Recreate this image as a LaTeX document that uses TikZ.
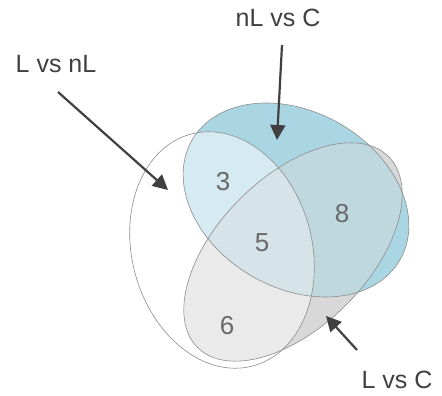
\documentclass[tikz,border=0pt]{standalone}
\usepackage{fontspec}
\setmainfont{Liberation Sans}
\usetikzlibrary{arrows.meta}
\definecolor{onlyblue}{RGB}{170,214,228} % nL vs C alone
\definecolor{onlygrey}{RGB}{216,216,216} % L vs C alone
\definecolor{bluewhite}{RGB}{213,234,241}
\definecolor{bluegrey}{RGB}{191,216,222}
\definecolor{greywhite}{RGB}{234,234,234}
\definecolor{allthree}{RGB}{214,227,232}
\definecolor{numgrey}{RGB}{105,105,105}
\definecolor{arrowgrey}{RGB}{64,64,64}
% outlines of the three sets
\newcommand{\setnlc}{(296,196) ellipse [x radius=120, y radius=88, rotate=-30]}
\newcommand{\setlc}{(293,144) ellipse [x radius=135, y radius=75, rotate=45]}
\newcommand{\setlnl}{(222,146) ellipse [x radius=90, y radius=120, rotate=15]}
\tikzset{x=1pt, y=1pt, % One unit is one pixel of the picture
set/.style={ % Outline of each set
draw=black!45, line width=0.6pt},
count/.style={ % Numbers inside the regions
text=numgrey, font=\fontsize{26}{30}\selectfont},
label/.style={ % Names of the comparisons
text=arrowgrey, font=\fontsize{25}{29}\selectfont},
pointer/.style={ % Arrows from names to sets
draw=arrowgrey, line width=2.2pt, -{Triangle[length=15pt, width=15pt]}}}

\begin{document}
\begin{tikzpicture}
    \useasboundingbox (0,0) rectangle (442,396);
    % the three sets and their overlaps
    \fill[onlyblue] \setnlc;
    \fill[onlygrey] \setlc;
    \fill[white] \setlnl;
    \begin{scope}
        \clip \setnlc;
        \fill[bluewhite] \setlnl;
        \fill[bluegrey] \setlc;
        \clip \setlnl;
        \fill[allthree] \setlc;
    \end{scope}
    \begin{scope}
        \clip \setlc;
        \fill[greywhite] \setlnl;
        \clip \setnlc;
        \fill[allthree] \setlnl;
    \end{scope}
    \draw[set] \setnlc;
    \draw[set] \setlc;
    \draw[set] \setlnl;
    % region counts
    \node[count] (n3) at (223,214) {3};
    \node[count] (n5) at (262,153) {5};
    \node[count] (n8) at (342,182) {8};
    \node[count] (n6) at (227,70) {6};
    % names and arrows
    \node[label] (nlc) at (278,378) {nL vs C};
    \node[label] (lnl) at (56,332) {L vs nL};
    \node[label] (lc) at (397,16) {L vs C};
    \coordinate (nlctip) at (277,256);
    \coordinate (lnltip) at (168,206);
    \coordinate (lctip) at (326,80);
    \draw[pointer] (282,351) -- (nlctip);
    \draw[pointer] (58,304) -- (lnltip);
    \draw[pointer] (357,46) -- (lctip);
\end{tikzpicture}
\end{document}
